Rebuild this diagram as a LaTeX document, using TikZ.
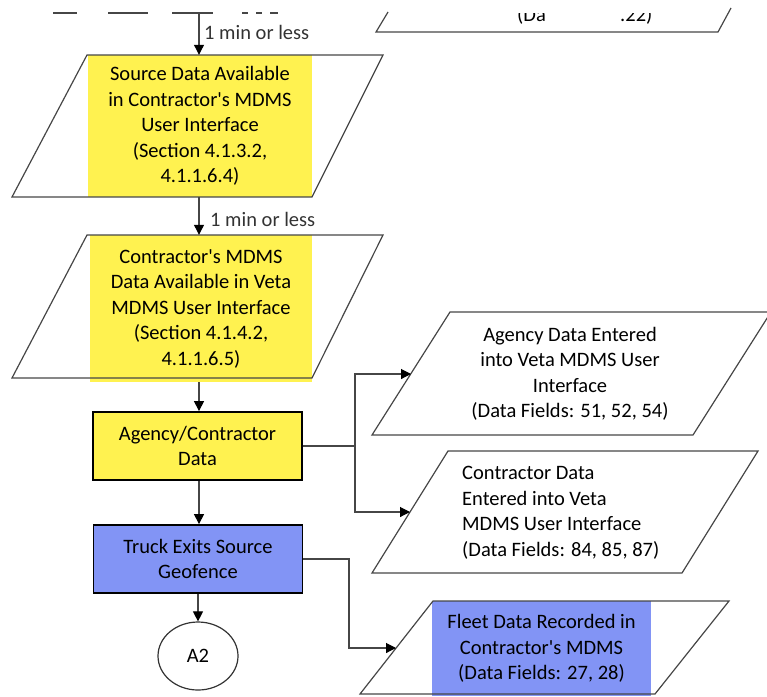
\documentclass[tikz,border=0pt]{standalone}
\usepackage{fontspec}
\setmainfont{Carlito}[Ligatures=TeXOff]
\usetikzlibrary{arrows.meta,shapes.geometric}

\definecolor{hlyellow}{RGB}{255,242,80}
\definecolor{hlblue}{RGB}{130,148,245}
\definecolor{inkgray}{RGB}{70,70,70}

\begin{document}
\begin{tikzpicture}[x=1pt,y=-1pt,
  every node/.style={font=\fontsize{20.5}{25.5}\selectfont, text=black, inner sep=0pt},
  para/.style={draw=inkgray, line width=1.2pt, line join=miter},
  hlfill/.style={fill=#1, align=center},
  procbox/.style={draw=black, line width=1.8pt, minimum width=209pt, minimum height=68pt, align=center},
  terminal/.style={draw=black!80, line width=1.2pt, ellipse, minimum width=80pt, minimum height=68pt},
  flow/.style={draw=inkgray, line width=1.1pt, -{Triangle[length=10pt,width=10pt,color=black]}},
  lbl/.style={text=black!80},
  stub/.style={draw=inkgray, line width=2pt}
]
\useasboundingbox (0,0) rectangle (767,696);
\clip (0,0) rectangle (767,696);

% leftovers of the previous sheet's last lines
\draw[stub] (53,13) -- (77,13);
\draw[stub] (108,13) -- (148,13);
\draw[stub] (172,13) -- (213,13);
\draw[stub] (242,13) -- (248,13) (256,13) -- (262,13) (270,13) -- (278,13);

% partial data parallelogram at the top of the sheet
\draw[para] (388,12) -- (376,32) -- (718,32) -- (731,8);
\begin{scope}
  \clip (505,13) rectangle (665,30);
  \node[anchor=base west] (topa) at (517,21) {(Da};
  \node[anchor=base west] (topb) at (620,21) {.22)};
\end{scope}

\coordinate (spine) at (199,0);
\coordinate (incoming) at (199,13);

% main column
\node[hlfill=hlyellow, minimum width=224pt, minimum height=142pt] (src) at (200,126)
  {Source Data Available\\in Contractor's MDMS\\User Interface\\(Section 4.1.3.2,\\4.1.1.6.4)};
\draw[para] (12,197) -- (87,55) -- (383,55) -- (312,197) -- cycle;

\node[hlfill=hlyellow, minimum width=222pt, minimum height=147pt] (veta) at (201,308.5)
  {Contractor's MDMS\\Data Available in Veta\\MDMS User Interface\\(Section 4.1.4.2,\\4.1.1.6.5)};
\draw[para] (12,378) -- (87,235) -- (383,235) -- (312,378) -- cycle;

\node[procbox, fill=hlyellow] (acd) at (197.5,446) {Agency/Contractor\\Data};
\node[procbox, fill=hlblue] (truck) at (198,559) {Truck Exits Source\\Geofence};
\node[terminal] (a2) at (198,656) {A2};

% right-hand data parallelograms
\draw[para] (372,435) -- (450,312) -- (771,312) -- (693,435) -- cycle;
\node[align=center] (agdata) at (570,374)
  {Agency Data Entered\\into Veta MDMS User\\Interface\\(Data Fields: 51, 52, 54)};

\draw[para] (372,573) -- (448,451) -- (758,451) -- (682,573) -- cycle;
\node[align=left, anchor=west] (ctdata) at (462,513)
  {Contractor Data\\Entered into Veta\\MDMS User Interface\\(Data Fields: 84, 85, 87)};

\node[hlfill=hlblue, minimum width=219pt, minimum height=95pt] (fleet) at (541.5,648.5)
  {Fleet Data Recorded in\\Contractor's MDMS\\(Data Fields: 27, 28)};
\draw[para] (360,694) -- (433,601) -- (729,601) -- (655,694) -- cycle;

% connector end points on slanted edges
\coordinate (adin) at (411,374);
\coordinate (cdin) at (410,512);
\coordinate (fleetin) at (396,648);
\coordinate (fork) at (355,446);
\coordinate (bend) at (349,559);

% connectors
\draw[flow] (incoming) -- (spine |- src.north);
\node[lbl, anchor=west] (lblone) at (204,32) {1 min or less};
\draw[flow] (spine |- src.south) -- (spine |- veta.north);
\node[lbl, anchor=west] (lbltwo) at (210,219) {1 min or less};
\draw[flow] (spine |- veta.south) -- (spine |- acd.north);
\draw[flow] (spine |- acd.south) -- (spine |- truck.north);
\draw[flow] (truck.south) -- (a2.north);

\draw[flow] (acd.east) -- (fork) |- (adin);
\draw[flow] (fork) |- (cdin);
\draw[flow] (truck.east) -- (bend) |- (fleetin);
\end{tikzpicture}
\end{document}
